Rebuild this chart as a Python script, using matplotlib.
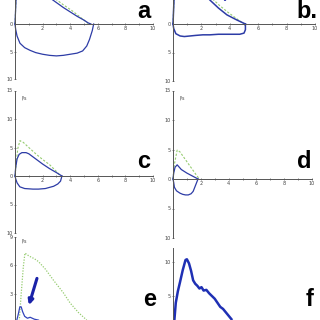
import matplotlib
matplotlib.use('Agg')
import matplotlib.pyplot as plt

W, H = 320, 320

# ---- panel a : flow-volume loop (blue measured, green predicted) ----
a_exp_x = [0, 0.05, 0.1, 0.2, 0.5, 1.0, 1.5, 2.0, 2.5, 3.0, 3.5, 4.0, 4.5, 5.0, 5.3, 5.5]
a_exp_y = [0, 3, 6, 9, 10, 9, 7.5, 6.2, 4.8, 3.9, 3.0, 2.2, 1.4, 0.7, 0.2, 0]
a_insp_x = [0, 0.05, 0.15, 0.36, 0.7, 1.1, 1.5, 2.0, 2.5, 3.0, 3.5, 4.0, 4.5, 4.9, 5.2, 5.4, 5.6, 5.7]
a_insp_y = [0, -1.0, -2.2, -3.5, -4.3, -4.8, -5.2, -5.5, -5.7, -5.8, -5.7, -5.5, -5.3, -4.9, -4.0, -2.8, -1.2, 0]
a_pred_x = [0, 0.1, 0.3, 0.6, 1.0, 2.0, 2.8, 3.5, 4.2, 4.8, 5.3]
a_pred_y = [0, 6, 9, 10, 9.5, 6.6, 4.8, 3.5, 2.3, 1.1, 0.1]

# ---- panel b ----
b_exp_x = [0, 0.05, 0.1, 0.2, 0.5, 1.0, 1.5, 2.0, 2.6, 3.2, 3.8, 4.5, 5.1]
b_exp_y = [0, 3, 6, 8.5, 9.5, 8.5, 7.2, 5.8, 4.2, 2.8, 1.6, 0.7, 0]
b_insp_x = [0, 0.05, 0.2, 0.5, 0.8, 1.2, 1.6, 2.1, 2.6, 3.2, 3.8, 4.3, 4.7, 5.0, 5.1, 5.1]
b_insp_y = [0, -0.8, -1.7, -2.1, -2.2, -2.1, -2.0, -1.9, -1.9, -1.8, -1.8, -1.8, -1.8, -1.6, -1.0, 0]
b_pred_x = [0, 0.1, 0.3, 0.6, 1.0, 2.0, 2.7, 3.3, 3.9, 4.5, 5.0]
b_pred_y = [0, 6, 9, 10, 9.5, 6.3, 4.6, 3.2, 2.0, 0.9, 0]

# ---- panel c ----
c_exp_x = [0, 0.05, 0.15, 0.3, 0.5, 0.8, 1.0, 1.5, 2.0, 2.5, 3.0, 3.4]
c_exp_y = [0, 1.5, 3.0, 3.8, 4.1, 4.1, 3.9, 3.0, 2.1, 1.3, 0.6, 0]
c_insp_x = [0, 0.05, 0.15, 0.35, 0.7, 1.3, 1.7, 2.2, 2.8, 3.1, 3.3, 3.4]
c_insp_y = [0, -0.5, -1.2, -1.9, -2.2, -2.3, -2.3, -2.2, -1.8, -1.4, -0.9, 0]
c_pred_x = [0, 0.1, 0.2, 0.36, 0.6, 1.0, 1.5, 2.0, 2.5, 3.0, 3.3]
c_pred_y = [0, 2.5, 4.8, 6.2, 5.9, 5.0, 3.9, 2.9, 2.0, 0.8, 0]

# ---- panel d ----
d_exp_x = [0, 0.05, 0.15, 0.3, 0.45, 0.6, 0.8, 1.0, 1.2, 1.4, 1.6, 1.8]
d_exp_y = [0, 1.0, 2.0, 2.4, 2.0, 1.6, 1.3, 1.0, 0.75, 0.5, 0.25, 0]
d_insp_x = [0, 0.05, 0.1, 0.25, 0.5, 0.7, 0.9, 1.1, 1.3, 1.45, 1.6, 1.7, 1.8]
d_insp_y = [0, -0.6, -1.4, -2.0, -2.4, -2.6, -2.7, -2.7, -2.5, -2.1, -1.2, -0.6, 0]
d_pred_x = [0, 0.1, 0.3, 0.5, 0.8, 1.1, 1.4, 1.7, 1.9]
d_pred_y = [0, 2.5, 4.9, 4.6, 3.6, 2.6, 1.6, 0.6, 0]

# ---- panel e ----
e_pred_x = [0.3, 0.45, 0.6, 0.72, 1.0, 1.4, 1.7, 2.2, 2.8, 3.5, 4.0, 4.6, 5.2]
e_pred_y = [0, 3.0, 5.8, 7.3, 7.0, 6.7, 6.4, 5.6, 4.4, 3.1, 2.0, 1.0, 0.2]
e_meas_x = [0.1, 0.25, 0.35, 0.45, 0.55, 0.7, 0.9, 1.1, 1.4, 1.7]
e_meas_y = [0, 0.9, 1.6, 1.6, 1.1, 0.6, 0.4, 0.5, 0.3, 0.2]

# ---- panel f ----
f_x = [0.05, 0.1, 0.2, 0.35, 0.5, 0.7, 0.9, 1.0, 1.15, 1.3, 1.45, 1.6, 1.75, 1.9,
       2.05, 2.2, 2.4, 2.6, 2.8, 3.0, 3.2, 3.4, 3.6, 3.8, 4.0, 4.2]
f_y = [0, 1.5, 4.0, 5.7, 7.0, 8.8, 10.3, 10.4, 9.8, 8.7, 7.3, 6.8, 6.5, 6.1,
       6.3, 5.8, 5.9, 5.4, 5.0, 4.6, 4.0, 3.4, 3.1, 2.6, 2.1, 1.6]

BLUE = '#2d3ca6'
GREEN = '#96cc70'
AXC = '#555555'


def make_axes(fig, xlim, ylim, xmap, ymap, xlabels=True):
    """Place an axes so that data values land on given pixel positions."""
    (xa, pxa), (xb, pxb) = xmap
    (ya, pya), (yb, pyb) = ymap
    sx = (pxb - pxa) / (xb - xa)
    sy = (pyb - pya) / (yb - ya)
    left = pxa + (xlim[0] - xa) * sx
    right = pxa + (xlim[1] - xa) * sx
    top = pya + (ylim[1] - ya) * sy
    bottom = pya + (ylim[0] - ya) * sy
    ax = fig.add_axes([left / W, 1 - bottom / H, (right - left) / W, (bottom - top) / H])
    ax.set_xlim(xlim)
    ax.set_ylim(ylim)
    ax.patch.set_visible(False)
    for s in ['top', 'right']:
        ax.spines[s].set_visible(False)
    ax.spines['left'].set_position(('data', 0))
    ax.spines['bottom'].set_position(('data', 0))
    ax.spines['left'].set_bounds(ylim[0], ylim[1])
    ax.spines['bottom'].set_bounds(0, 10)
    for s in ['left', 'bottom']:
        ax.spines[s].set_color(AXC)
        ax.spines[s].set_linewidth(0.7)
    ax.set_xticks([2, 4, 6, 8, 10])
    if xlabels:
        ax.set_xticklabels(['2', '4', '6', '8', '10'])
    else:
        ax.set_xticklabels([])
    ax.set_xticks([1, 3, 5, 7, 9], minor=True)
    ax.tick_params(axis='both', which='both', length=1.5, width=0.5, color=AXC,
                   labelsize=3.5, labelcolor='#444444', pad=1, direction='inout')
    return ax


def set_yticks(ax, ticks):
    ax.set_yticks(ticks)
    ax.set_yticklabels([str(abs(t)) for t in ticks])


def label(fig, px, py, text):
    fig.text(px / W, 1 - py / H, text, fontsize=17, fontweight='bold',
             family=['Liberation Sans', 'DejaVu Sans'],
             ha='center', va='center', color='black')


def main():
    fig = plt.figure(figsize=(3.2, 3.2), dpi=100)

    # a (top of the panel lies outside the picture)
    ax = make_axes(fig, (-0.6, 10.4), (-10, 15), ((0, 15), (10, 153)), ((0, 24), (-10, 79)))
    set_yticks(ax, [-10, -5, 0])
    ax.plot(a_pred_x, a_pred_y, color=GREEN, lw=0.8, ls=(0, (2, 1.5)))
    ax.plot(a_exp_x, a_exp_y, color=BLUE, lw=0.9)
    ax.plot(a_insp_x, a_insp_y, color=BLUE, lw=0.9)

    # b
    ax = make_axes(fig, (-0.6, 10.4), (-10, 15), ((0, 173), (10, 315)), ((0, 24), (-10, 81)))
    set_yticks(ax, [-10, -5, 0])
    ax.plot(b_pred_x, b_pred_y, color=GREEN, lw=0.8, ls=(0, (2, 1.5)))
    ax.plot(b_exp_x, b_exp_y, color=BLUE, lw=1.1)
    ax.plot(b_insp_x, b_insp_y, color=BLUE, lw=1.1)
    ax.annotate('', xy=(3.6, 3.3), xytext=(3.8, 6.5),
                arrowprops=dict(arrowstyle='-|>', color='#1a22a8', lw=2, mutation_scale=6))

    # c
    ax = make_axes(fig, (-0.6, 10.4), (-10, 15), ((0, 15), (10, 153)), ((0, 176), (10, 119)))
    set_yticks(ax, [-10, -5, 0, 5, 10, 15])
    ax.plot(c_pred_x, c_pred_y, color=GREEN, lw=0.8, ls=(0, (2, 1.5)))
    ax.plot(c_exp_x, c_exp_y, color=BLUE, lw=0.9)
    ax.plot(c_insp_x, c_insp_y, color=BLUE, lw=0.9)
    fig.text(21 / W, 1 - 98 / H, 'l/s', fontsize=3.5, color='#444444', va='center')

    # d
    ax = make_axes(fig, (-0.6, 10.4), (-10, 15), ((0, 173), (10, 312)), ((0, 179), (10, 120)))
    set_yticks(ax, [-10, -5, 0, 5, 10, 15])
    ax.plot(d_pred_x, d_pred_y, color=GREEN, lw=0.8, ls=(0, (2, 1.5)))
    ax.plot(d_exp_x, d_exp_y, color=BLUE, lw=0.9)
    ax.plot(d_insp_x, d_insp_y, color=BLUE, lw=0.9)
    fig.text(179 / W, 1 - 98 / H, 'l/s', fontsize=3.5, color='#444444', va='center')

    # e (bottom of the panel lies outside the picture)
    ax = make_axes(fig, (-0.6, 10.4), (-1, 9), ((0, 15), (10, 153)), ((0, 322), (9, 237)),
                   xlabels=False)
    ax.spines['left'].set_bounds(0, 9)
    set_yticks(ax, [3, 6, 9])
    ax.plot(e_pred_x, e_pred_y, color=GREEN, lw=0.9, ls=(0, (1, 1.2)))
    ax.plot(e_meas_x, e_meas_y, color='#3344bb', lw=0.9)
    ax.annotate('', xy=(0.95, 1.5), xytext=(1.65, 4.9),
                arrowprops=dict(arrowstyle='-|>', color='#1a22a8', lw=2.2, mutation_scale=7))
    fig.text(21 / W, 1 - 241 / H, 'l/s', fontsize=3.5, color='#444444', va='center')

    # f
    ax = make_axes(fig, (-0.6, 10.4), (-1, 12), ((0, 173), (10, 312)), ((0, 330), (10, 262)),
                   xlabels=False)
    ax.spines['left'].set_bounds(0, 12)
    set_yticks(ax, [5, 10])
    ax.plot(f_x, f_y, color='#1f30b4', lw=1.8)

    label(fig, 144, 12, 'a')
    label(fig, 307, 12, 'b.')
    label(fig, 144, 161, 'c')
    label(fig, 304, 161, 'd')
    label(fig, 150, 300, 'e')
    label(fig, 310, 300, 'f')

    fig.savefig('out.png', dpi=100)


if __name__ == '__main__':
    main()
